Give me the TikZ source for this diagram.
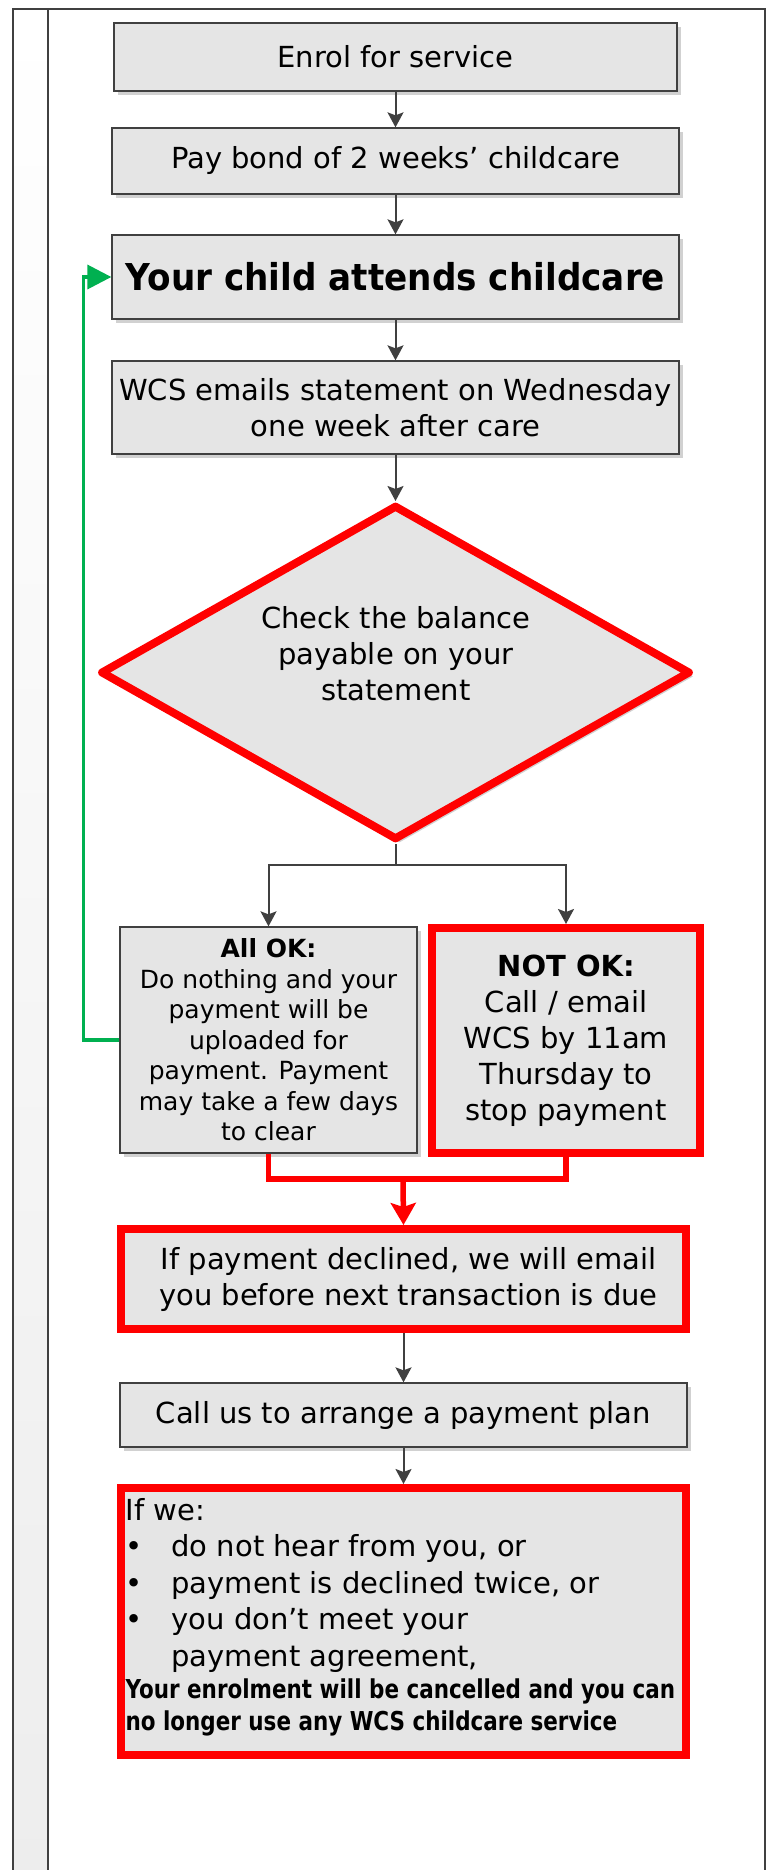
\documentclass[tikz,border=0pt]{standalone}
\usepackage{fontspec}
\usepackage{graphicx}
\setmainfont{DejaVu Sans}
\usetikzlibrary{arrows.meta,shapes.geometric,shadows,calc}
\definecolor{boxgray}{HTML}{E5E5E5}
\definecolor{linegray}{HTML}{404040}
\definecolor{greencol}{HTML}{00B050}
\definecolor{redcol}{HTML}{FF0000}
\tikzset{
  shad/.style={drop shadow={shadow xshift=4pt,shadow yshift=-4pt,fill=black!18,opacity=1}},
  box/.style={draw=linegray, line width=1.3pt, fill=boxgray, shad, inner sep=0pt, align=center,
              font=\fontsize{29}{36}\selectfont},
  redbox/.style={box, draw=redcol, line width=8pt},
  arr/.style={draw=linegray, line width=2pt, -{Stealth[length=15pt,width=16pt,inset=3pt]}},
  plainline/.style={draw=linegray, line width=2pt},
  redline/.style={draw=redcol, line width=5.5pt},
  redarr/.style={draw=redcol, line width=5.5pt, -{Stealth[length=22pt,width=25pt,inset=4pt]}},
  greenarr/.style={draw=greencol, line width=3.5pt, -{Triangle[length=24pt,width=24pt]}},
  lane/.style={draw=linegray, line width=2pt}
}
\begin{document}
\begin{tikzpicture}[x=1pt,y=-1pt]
\useasboundingbox (0,0) rectangle (769,1870);
% lane
\fill[top color=white, bottom color=black!7] (13,9) rectangle (48,1875);
\draw[lane] (13,1875) -- (13,9) -- (765,9) -- (765,1875);
\draw[lane] (48,9) -- (48,1875);

% boxes
\node[box, minimum width=563pt, minimum height=68pt] (enrol) at (395.5,57) {Enrol for service};
\node[box, minimum width=567pt, minimum height=66pt] (bond) at (395.5,161) {Pay bond of 2 weeks’ childcare};
\node[box, minimum width=567pt, minimum height=84pt, font=\fontsize{37}{44}\selectfont\bfseries] (attend) at (395.5,277)
  {\scalebox{0.925}[1]{Your child attends childcare}};
\node[box, minimum width=567pt, minimum height=93pt] (wcs) at (395.5,407.5) {WCS emails statement on Wednesday\\one week after care};
\node[diamond, draw=redcol, line width=8pt, line join=round, fill=boxgray, shad,
      minimum width=590pt, minimum height=335pt, inner sep=0pt] (dia) at (395.5,672.5) {};
\node[align=center, font=\fontsize{29}{36}\selectfont] (diatext) at (396,654) {Check the balance\\payable on your\\statement};

\node[box, minimum width=297pt, minimum height=226pt, font=\fontsize{25}{30.5}\selectfont] (allok) at (268.5,1040)
  {\textbf{All OK:}\\Do nothing and your\\payment will be\\uploaded for\\payment. Payment\\may take a few days\\to clear};
\node[redbox, minimum width=268pt, minimum height=225pt] (notok) at (566,1040.5)
  {\textbf{NOT OK:}\\Call / email\\WCS by 11am\\Thursday to\\stop payment};

\node[redbox, minimum width=565pt, minimum height=100pt] (declined) at (403.5,1279)
  {\hspace*{10pt}If payment declined, we will email\\\hspace*{10pt}you before next transaction is due};
\node[box, minimum width=567pt, minimum height=64pt] (callus) at (403.5,1415) {Call us to arrange a payment plan};
\node[redbox, minimum width=565pt, minimum height=267pt, align=left] (ifwe) at (403.5,1621.5)
  {\parbox[c][257pt][t]{556pt}{\raggedright\vspace*{5pt}%
   {\fontsize{29}{36.5}\selectfont If we:\par
    \makebox[46pt][l]{•}do not hear from you, or\par
    \makebox[46pt][l]{•}payment is declined twice, or\par
    \makebox[46pt][l]{•}you don’t meet your\par
    \hspace*{46pt}payment agreement,\par}
   {\fontsize{26}{32}\selectfont\bfseries \scalebox{0.826}[1]{Your enrolment will be cancelled and you can}\par
    \scalebox{0.826}[1]{no longer use any WCS childcare service}\par}}};

% connectors
\draw[arr] (enrol) -- (bond);
\draw[arr] (bond) -- (attend);
\draw[arr] (attend) -- (wcs);
\draw[arr] (wcs.south) -- (wcs.south |- dia.north);
\coordinate (split) at (395.5,865);
\draw[plainline] (dia.south) -- (split);
\draw[arr] (split) -| (allok.north);
\draw[arr] (split) -| (notok.north);
\coordinate (merge) at (403,1179);
\draw[redline] (allok.south) |- (merge) -| (notok.south);
\draw[redarr] (merge) -- (declined.north);
\draw[arr] (declined.south -| callus.north) -- (callus.north);
\draw[arr] (callus.south) -- (ifwe.north);
\draw[greenarr] (allok.west) -- ++(-36,0) |- (attend.west);
\end{tikzpicture}
\end{document}
